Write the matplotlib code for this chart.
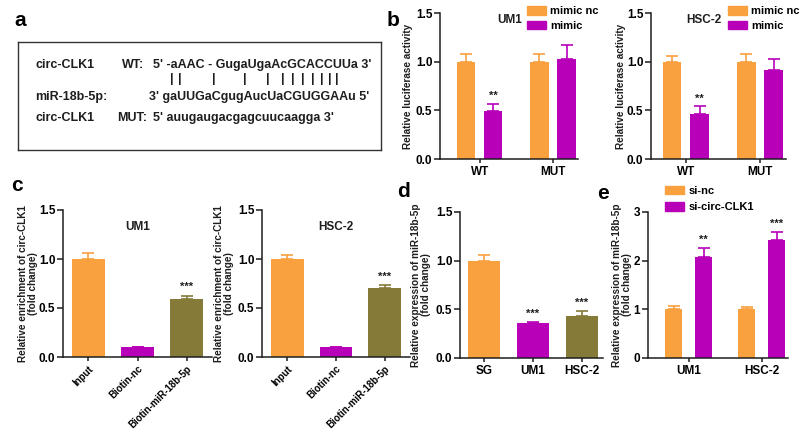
import matplotlib
matplotlib.use("Agg")
import matplotlib.pyplot as plt
import numpy as np

plt.rcParams["font.family"] = ["Liberation Sans", "DejaVu Sans"]
plt.rcParams["font.weight"] = "bold"
plt.rcParams["axes.labelweight"] = "bold"

ORANGE = "#F9A03F"
PURPLE = "#B900B9"
OLIVE = "#857A38"
INK = "#1E1E1E"

# panel b: dual luciferase
luc_groups = ["WT", "MUT"]
luc_series = ["mimic nc", "mimic"]
luc_um1_nc = [1.00, 1.00]
luc_um1_nc_err = [0.08, 0.08]
luc_um1_mimic = [0.49, 1.03]
luc_um1_mimic_err = [0.08, 0.14]
luc_um1_stars = ["**", ""]
luc_hsc2_nc = [1.00, 1.00]
luc_hsc2_nc_err = [0.06, 0.08]
luc_hsc2_mimic = [0.46, 0.91]
luc_hsc2_mimic_err = [0.08, 0.12]
luc_hsc2_stars = ["**", ""]

# panel c: RNA pull-down
pull_labels = ["Input", "Biotin-nc", "Biotin-miR-18b-5p"]
pull_um1 = [1.00, 0.10, 0.59]
pull_um1_err = [0.06, 0.006, 0.035]
pull_hsc2 = [1.00, 0.10, 0.70]
pull_hsc2_err = [0.045, 0.006, 0.03]
pull_stars = ["", "", "***"]

# panel d: miR-18b-5p expression in cell lines
expr_labels = ["SG", "UM1", "HSC-2"]
expr_values = [1.00, 0.355, 0.435]
expr_err = [0.055, 0.02, 0.05]
expr_stars = ["", "***", "***"]

# panel e: knockdown of circ-CLK1
si_groups = ["UM1", "HSC-2"]
si_series = ["si-nc", "si-circ-CLK1"]
si_nc = [1.00, 1.00]
si_nc_err = [0.07, 0.05]
si_circ = [2.08, 2.43]
si_circ_err = [0.18, 0.15]
si_stars = ["**", "***"]

W, H = 800, 433
fig = plt.figure(figsize=(W / 100, H / 100), dpi=100)

TICK_FS = 8.5
LABEL_FS = 7.2
LEGEND_FS = 8


def fx(x):
    return x / W


def fy(y):
    return 1 - y / H


def add_axes(x0, x1, ytop, ybot):
    return fig.add_axes([fx(x0), fy(ybot), (x1 - x0) / W, (ybot - ytop) / H])


def style(ax, ymax, yticks, fmt):
    for side in ["top", "right"]:
        ax.spines[side].set_visible(False)
    for side in ["left", "bottom"]:
        ax.spines[side].set_linewidth(1.1)
        ax.spines[side].set_color(INK)
    ax.set_ylim(0, ymax)
    ax.set_yticks(yticks)
    ax.set_yticklabels([fmt.format(t) for t in yticks])
    ax.tick_params(axis="y", direction="out", length=4, width=1.1, color=INK,
                   labelsize=TICK_FS, pad=1.5)
    ax.tick_params(axis="x", direction="out", length=3, width=1.1, color=INK,
                   labelsize=TICK_FS, pad=2)


def draw_bars(ax, xs, vals, errs, color, width, stars=None, gap=0.03):
    ax.bar(xs, vals, width, color=color, zorder=2)
    for i, (x, v, e) in enumerate(zip(xs, vals, errs)):
        ax.errorbar(x, v, yerr=[[0], [e]], fmt="none", ecolor=color,
                    elinewidth=1.2, capsize=4, capthick=1.2, zorder=1)
        if stars and stars[i]:
            ax.text(x, v + e + gap, stars[i], ha="center", va="bottom",
                    fontsize=8, color=INK)


def set_ylabel(ax, text, xpix):
    ax.set_ylabel(text, fontsize=LABEL_FS, color=INK, linespacing=1.1)
    pos = ax.get_position()
    ax.yaxis.set_label_coords(fx(xpix), pos.y0 + pos.height / 2,
                              transform=fig.transFigure)
    ax.yaxis.label.set_va("center")


def letter(x, y, s):
    fig.text(fx(x), fy(y), s, fontsize=15, fontweight="bold", ha="center",
             va="center", color="black")


def add_legend(labels, x, y, spacing):
    handles = [plt.Rectangle((0, 0), 1, 1, color=c) for c in (ORANGE, PURPLE)]
    fig.legend(handles, labels, loc="upper left",
               bbox_to_anchor=(fx(x), fy(y)), frameon=False, fontsize=LEGEND_FS,
               borderpad=0, borderaxespad=0, handlelength=1.7, handleheight=0.8,
               handletextpad=0.4, labelspacing=spacing)


# ---------------- panel a ----------------
ax_a = add_axes(18, 381, 42, 150)
ax_a.set_xlim(18, 381)
ax_a.set_ylim(150, 42)
ax_a.set_xticks([])
ax_a.set_yticks([])
for sp in ax_a.spines.values():
    sp.set_linewidth(1.0)
    sp.set_color("#333333")
seq_kw = dict(fontsize=9, fontweight="bold", va="center", ha="left", color=INK)
ax_a.text(35, 65, "circ-CLK1", **seq_kw)
ax_a.text(122, 65, "WT:", **seq_kw)
ax_a.text(153, 65, "5' -aAAC - GugaUgaAcGCACCUUa 3'", **seq_kw)
pair_x = [172, 180, 214, 245, 268, 283, 293, 303, 313, 322, 330, 337]
for px in pair_x:
    ax_a.text(px, 79, "|", fontsize=9, ha="center", va="center", color=INK)
ax_a.text(35, 97, "miR-18b-5p:", **seq_kw)
ax_a.text(149, 97, "3' gaUUGaCgugAucUaCGUGGAAu 5'", **seq_kw)
ax_a.text(35, 118, "circ-CLK1", **seq_kw)
ax_a.text(117, 118, "MUT:", **seq_kw)
ax_a.text(153, 118, "5' auugaugacgagcuucaagga 3'", **seq_kw)

# ---------------- panel b ----------------
b_panels = [
    (440, 578, (-0.54, 1.34), 408, "UM1", 510, 527,
     luc_um1_nc, luc_um1_nc_err, luc_um1_mimic, luc_um1_mimic_err, luc_um1_stars),
    (651, 786, (-0.47, 1.35), 621, "HSC-2", 704, 728,
     luc_hsc2_nc, luc_hsc2_nc_err, luc_hsc2_mimic, luc_hsc2_mimic_err, luc_hsc2_stars),
]
for (x0, x1, xl, ylab_x, title, title_x, leg_x,
     nc, nc_err, mim, mim_err, stars) in b_panels:
    ax = add_axes(x0, x1, 13, 159)
    idx = np.arange(len(luc_groups))
    draw_bars(ax, idx - 0.185, nc, nc_err, ORANGE, 0.25)
    draw_bars(ax, idx + 0.185, mim, mim_err, PURPLE, 0.25, stars, gap=0.03)
    style(ax, 1.5, [0, 0.5, 1.0, 1.5], "{:.1f}")
    ax.set_xlim(*xl)
    ax.set_xticks(idx)
    ax.set_xticklabels(luc_groups)
    set_ylabel(ax, "Relative luciferase activity", ylab_x)
    fig.text(fx(title_x), fy(20), title, fontsize=8.5, fontweight="bold",
             ha="center", va="center", color=INK)
    add_legend(luc_series, leg_x, 6, 0.4)

# ---------------- panel c ----------------
c_panels = [
    (63, 212, 28, "UM1", pull_um1, pull_um1_err),
    (262, 410, 224, "HSC-2", pull_hsc2, pull_hsc2_err),
]
for x0, x1, ylab_x, title, vals, errs in c_panels:
    ax = add_axes(x0, x1, 210, 357)
    idx = np.arange(len(pull_labels))
    for i, c in enumerate([ORANGE, PURPLE, OLIVE]):
        draw_bars(ax, [idx[i]], [vals[i]], [errs[i]], c, 0.67,
                  [pull_stars[i]], gap=0.04)
    style(ax, 1.5, [0, 0.5, 1.0, 1.5], "{:.1f}")
    ax.set_xlim(-0.52, 2.52)
    ax.set_xticks(idx)
    ax.set_xticklabels(pull_labels, rotation=45, ha="right",
                       rotation_mode="anchor", fontsize=7)
    set_ylabel(ax, "Relative enrichment of circ-CLK1\n(fold change)", ylab_x)
    ax.text(1, 1.33, title, ha="center", va="center", fontsize=8.5,
            fontweight="bold", color=INK)

# ---------------- panel d ----------------
ax_d = add_axes(460, 603, 212, 358)
idx = np.arange(len(expr_labels))
for i, c in enumerate([ORANGE, PURPLE, OLIVE]):
    draw_bars(ax_d, [idx[i]], [expr_values[i]], [expr_err[i]], c, 0.66,
              [expr_stars[i]], gap=0.03)
style(ax_d, 1.5, [0, 0.5, 1.0, 1.5], "{:.1f}")
ax_d.set_xlim(-0.49, 2.43)
ax_d.set_xticks(idx)
ax_d.set_xticklabels(expr_labels)
set_ylabel(ax_d, "Relative expression of miR-18b-5p\n(fold change)", 421)

# ---------------- panel e ----------------
ax_e = add_axes(648, 788, 212, 358)
idx = np.arange(len(si_groups))
draw_bars(ax_e, idx - 0.205, si_nc, si_nc_err, ORANGE, 0.235)
draw_bars(ax_e, idx + 0.205, si_circ, si_circ_err, PURPLE, 0.235, si_stars,
          gap=0.07)
style(ax_e, 3, [0, 1, 2, 3], "{:d}")
ax_e.set_xlim(-0.56, 1.36)
ax_e.set_xticks(idx)
ax_e.set_xticklabels(si_groups)
set_ylabel(ax_e, "Relative expression of miR-18b-5p\n(fold change)", 622)
add_legend(si_series, 665, 186, 0.55)

letter(20, 20, "a")
letter(393, 20, "b")
letter(17, 186, "c")
letter(403, 192, "d")
letter(603, 193, "e")

fig.savefig("out.png", dpi=100)
